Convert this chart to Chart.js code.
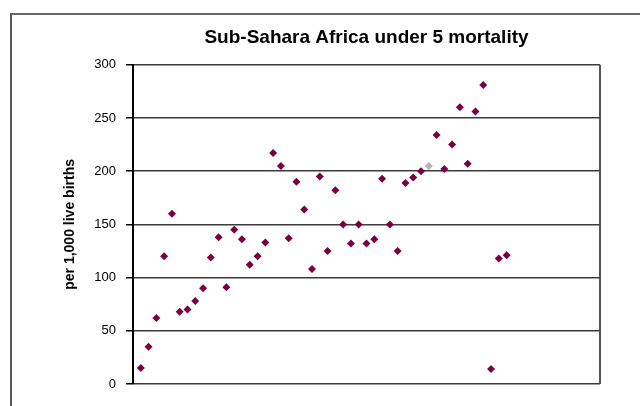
<!DOCTYPE html>
<html>
<head>
<meta charset="utf-8">
<script src="https://cdn.jsdelivr.net/npm/chart.js@4"></script>
<style>
    body { margin: 0; background: #fff; }
    #wrap { position: relative; width: 640px; height: 406px; overflow: hidden; }
    #frame { position: absolute; left: 10px; top: 13px; width: 700px; height: 500px;
             border-left: 2px solid #555; border-top: 2px solid #666; }
    canvas { position: absolute; left: 0; top: 0; }
</style>
</head>
<body>
<div id="wrap">
    <div id="frame"></div>
    <canvas id="chart" width="640" height="406"></canvas>
</div>
<script>
// under 5 mortality, per 1,000 live births (one value per country, in chart order)
const mortality = [15, 35, 62, 120, 160, 68, 70, 78, 90, 119, 138, 91, 145, 136, 112, 120,
    133, 217, 205, 137, 190, 164, 108, 195, 125, 182, 150, 132, 150, 132, 136, 193,
    150, 125, 189, 194, 200, 205, 234, 202, 225, 260, 207, 256, 281, 14, 118, 121];
const highlighted = 37; // index of the grey point
const yTicks = [0, 50, 100, 150, 200, 250, 300];

const points = mortality.map((v, i) => ({ x: i + 1, y: v }));
const maroon = '#7b0040';
const colours = mortality.map((v, i) => i === highlighted ? '#b4b4b4' : maroon);

const ctx = document.getElementById('chart').getContext('2d');
new Chart(ctx, {
    type: 'scatter',
    data: {
        datasets: [{
            data: points,
            pointStyle: 'rectRot',
            pointRadius: 4,
            pointBackgroundColor: colours,
            pointBorderColor: colours,
            pointBorderWidth: 0
        }]
    },
    options: {
        responsive: false,
        animation: false,
        layout: { padding: { top: 0, right: 40, bottom: 22, left: 0 } },
        plugins: {
            legend: { display: false },
            tooltip: { enabled: false },
            title: {
                display: true,
                fullSize: false,
                text: 'Sub-Sahara Africa under 5 mortality',
                color: '#000',
                font: { family: "'Liberation Sans', Arial, sans-serif", size: 19, weight: 'bold' },
                padding: { top: 26, bottom: 16 }
            }
        },
        scales: {
            x: {
                min: 0,
                max: 60,
                ticks: { display: false, stepSize: 60 },
                grid: {
                    drawTicks: false,
                    color: c => c.tick && c.tick.value === 60 ? '#555' : 'transparent',
                    lineWidth: 2
                },
                border: { display: false }
            },
            y: {
                min: 0,
                max: 300,
                afterBuildTicks: s => { s.ticks = yTicks.map(v => ({ value: v })); },
                afterFit: s => { s.width = 133; },
                ticks: {
                    color: '#000',
                    padding: 10,
                    font: { family: "'Liberation Sans', Arial, sans-serif", size: 13 }
                },
                grid: {
                    color: '#3c3c3c',
                    lineWidth: 1.5,
                    tickLength: 7,
                    tickColor: '#000'
                },
                border: { color: '#000', width: 2 },
                title: {
                    display: true,
                    text: 'per 1,000 live births',
                    color: '#000',
                    font: { family: "'Liberation Sans', Arial, sans-serif", size: 14, weight: 'bold' },
                    padding: { top: 62, bottom: 0 }
                }
            }
        }
    }
});
</script>
</body>
</html>
